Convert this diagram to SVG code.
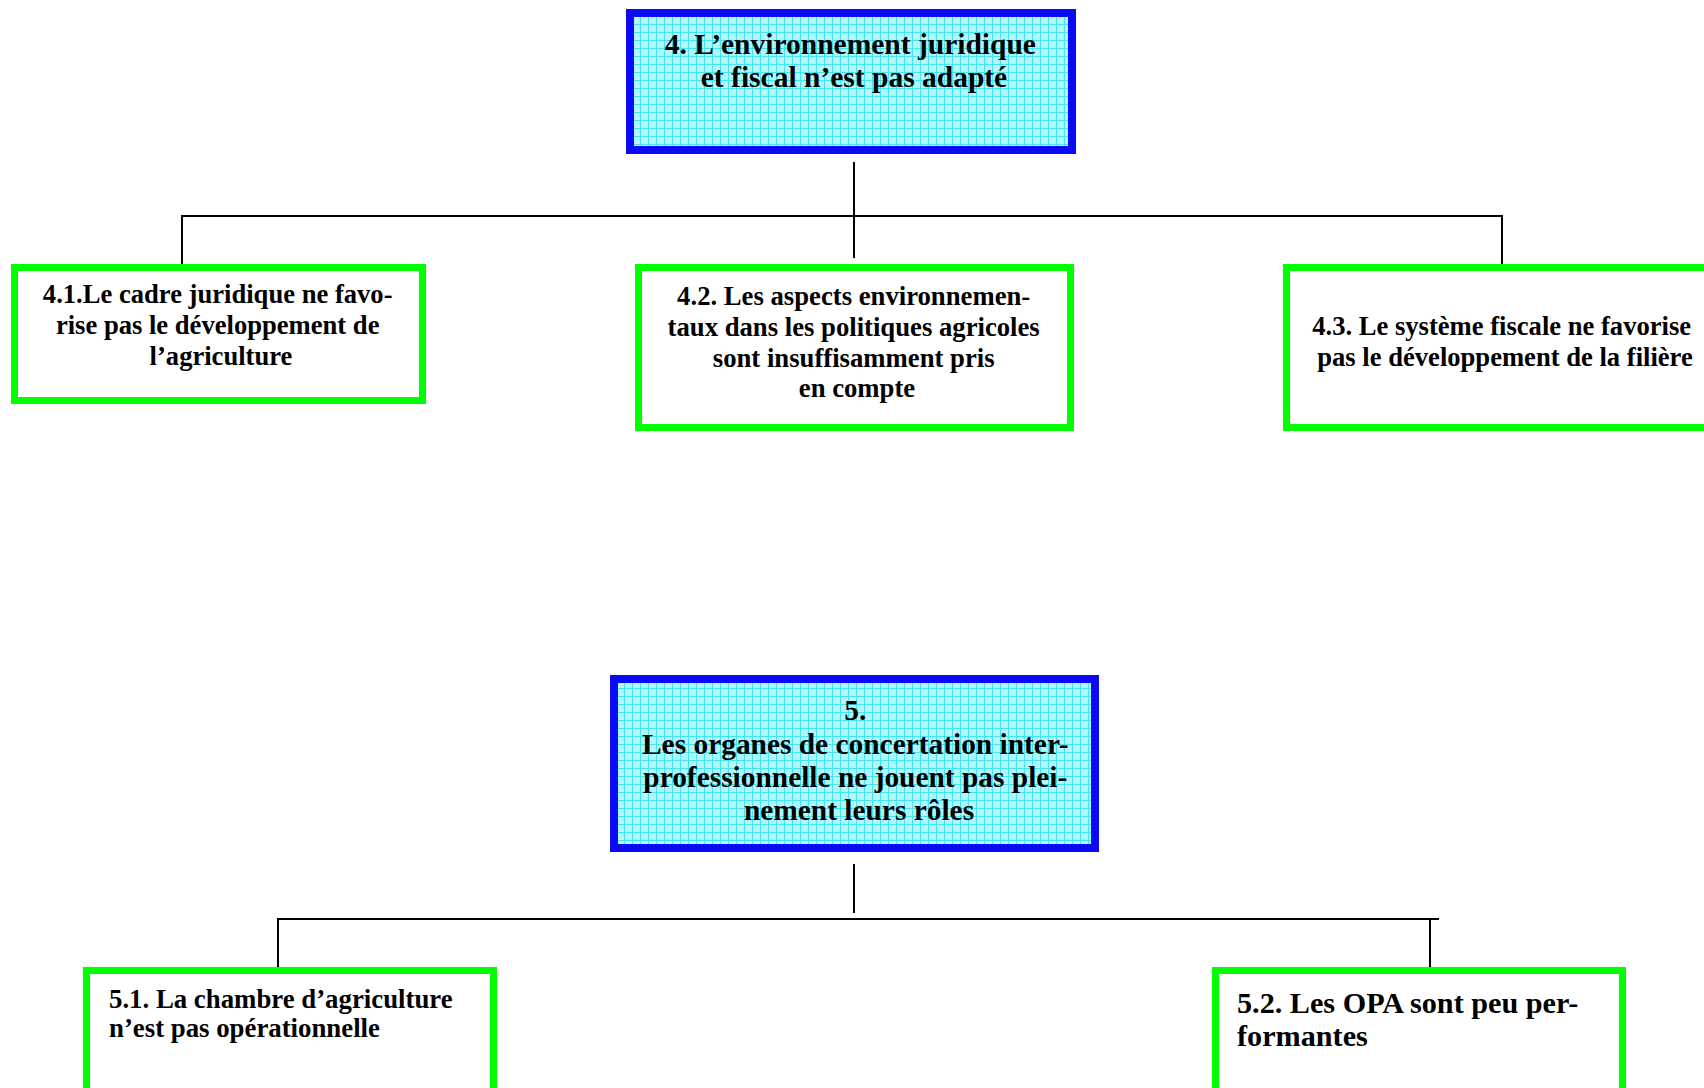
<svg xmlns="http://www.w3.org/2000/svg" width="1704" height="1088" viewBox="0 0 1704 1088">
<style>
  .t { font-family: "Liberation Serif", "Times New Roman", serif; font-weight: bold; fill: #000; }
  .main { stroke: #0a0af5; stroke-width: 8; fill: url(#grid); }
  .sub { stroke: #00ff00; stroke-width: 7; fill: #fff; }
  .conn line { stroke: #000; stroke-width: 2; }
</style>
<defs>
  <pattern id="grid" patternUnits="userSpaceOnUse" width="8" height="8">
    <rect width="8" height="8" fill="#b2f5fb"/>
    <path d="M0 0.5H8M0.5 0V8" stroke="#45e4f2" stroke-width="1" fill="none"/>
  </pattern>
</defs>
<rect width="1704" height="1088" fill="#fff"/>

<g id="connectors" class="conn">
  <line x1="854" y1="162" x2="854" y2="258"/>
  <line x1="181" y1="216" x2="1503" y2="216"/>
  <line x1="182" y1="216" x2="182" y2="264"/>
  <line x1="1502" y1="216" x2="1502" y2="264"/>
  <line x1="854" y1="864" x2="854" y2="913"/>
  <line x1="277" y1="919" x2="1439" y2="919"/>
  <line x1="278" y1="919" x2="278" y2="967"/>
  <line x1="1430" y1="919" x2="1430" y2="967"/>
</g>

<g id="n4">
  <rect class="main" x="630" y="13" width="442" height="137"/>
  <text class="t" font-size="29.5" text-anchor="middle">
    <tspan x="854" y="54">4. L’environnement juridique</tspan>
    <tspan x="854" y="87">et fiscal n’est pas adapté</tspan>
  </text>
</g>

<g id="n4_1">
  <rect class="sub" x="14.5" y="267.5" width="408" height="133"/>
  <text class="t" font-size="26.6" text-anchor="middle">
    <tspan x="221" y="303">4.1.Le cadre juridique ne favo-</tspan>
    <tspan x="221" y="334">rise pas le développement de</tspan>
    <tspan x="221" y="365">l’agriculture</tspan>
  </text>
</g>

<g id="n4_2">
  <rect class="sub" x="638.5" y="267.5" width="432" height="160"/>
  <text class="t" font-size="26.7" text-anchor="middle">
    <tspan x="857" y="305">4.2. Les aspects environnemen-</tspan>
    <tspan x="857" y="336">taux dans les politiques agricoles</tspan>
    <tspan x="857" y="367">sont insuffisamment pris</tspan>
    <tspan x="857" y="397">en compte</tspan>
  </text>
</g>

<g id="n4_3">
  <rect class="sub" x="1286.5" y="267.5" width="500" height="160"/>
  <text class="t" font-size="26.6" text-anchor="middle">
    <tspan x="1505" y="335">4.3. Le système fiscale ne favorise</tspan>
    <tspan x="1505" y="366">pas le développement de la filière</tspan>
  </text>
</g>

<g id="n5">
  <rect class="main" x="614" y="679" width="481" height="169"/>
  <text class="t" font-size="29.4" text-anchor="middle">
    <tspan x="859" y="720">5.</tspan>
    <tspan x="859" y="754">Les organes de concertation inter-</tspan>
    <tspan x="859" y="787">professionnelle ne jouent pas plei-</tspan>
    <tspan x="859" y="820">nement leurs rôles</tspan>
  </text>
</g>

<g id="n5_1">
  <rect class="sub" x="86.5" y="970.5" width="407" height="200"/>
  <text class="t" font-size="26.8">
    <tspan x="109" y="1008">5.1. La chambre d’agriculture</tspan>
    <tspan x="109" y="1037">n’est pas opérationnelle</tspan>
  </text>
</g>

<g id="n5_2">
  <rect class="sub" x="1215.5" y="970.5" width="407" height="200"/>
  <text class="t" font-size="30.2">
    <tspan x="1237" y="1013">5.2. Les OPA sont peu per-</tspan>
    <tspan x="1237" y="1046">formantes</tspan>
  </text>
</g>
</svg>
